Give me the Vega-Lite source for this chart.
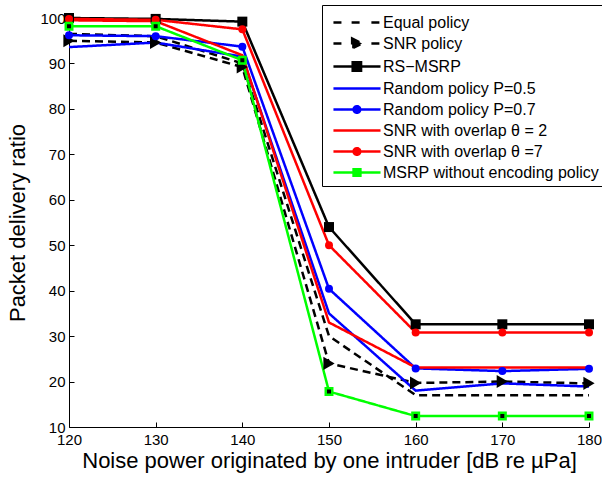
{
  "$schema": "https://vega.github.io/schema/vega-lite/v6.json",
  "width": 520,
  "height": 409,
  "autosize": "none",
  "padding": {"left": 69, "top": 18, "right": 13, "bottom": 54},
  "config": {
    "view": {"stroke": null},
    "font": "Liberation Sans",
    "axis": {
      "domainColor": "#000000",
      "tickColor": "#000000",
      "labelColor": "#000000",
      "titleColor": "#000000",
      "labelFont": "Liberation Sans",
      "titleFont": "Liberation Sans",
      "labelFontSize": 15,
      "titleFontSize": 22,
      "titleFontWeight": "normal",
      "grid": false,
      "tickSize": -5
    }
  },
  "data": {
    "values": [
      {"s": "Equal policy", "x": 120, "y": 96.5},
      {"s": "Equal policy", "x": 130, "y": 96.0},
      {"s": "Equal policy", "x": 140, "y": 90.0},
      {"s": "Equal policy", "x": 150, "y": 30.0},
      {"s": "Equal policy", "x": 160, "y": 17.0},
      {"s": "Equal policy", "x": 170, "y": 17.0},
      {"s": "Equal policy", "x": 180, "y": 17.0},
      {"s": "SNR policy", "x": 120, "y": 95.0},
      {"s": "SNR policy", "x": 130, "y": 94.6},
      {"s": "SNR policy", "x": 140, "y": 89.2},
      {"s": "SNR policy", "x": 150, "y": 24.0},
      {"s": "SNR policy", "x": 160, "y": 19.7},
      {"s": "SNR policy", "x": 170, "y": 20.0},
      {"s": "SNR policy", "x": 180, "y": 19.6},
      {"s": "RS\u2212MSRP", "x": 120, "y": 100.0},
      {"s": "RS\u2212MSRP", "x": 130, "y": 99.8},
      {"s": "RS\u2212MSRP", "x": 140, "y": 99.2},
      {"s": "RS\u2212MSRP", "x": 150, "y": 54.0},
      {"s": "RS\u2212MSRP", "x": 160, "y": 32.6},
      {"s": "RS\u2212MSRP", "x": 170, "y": 32.6},
      {"s": "RS\u2212MSRP", "x": 180, "y": 32.6},
      {"s": "Random policy P=0.5", "x": 120, "y": 93.6},
      {"s": "Random policy P=0.5", "x": 130, "y": 94.6},
      {"s": "Random policy P=0.5", "x": 140, "y": 91.5},
      {"s": "Random policy P=0.5", "x": 150, "y": 35.0},
      {"s": "Random policy P=0.5", "x": 160, "y": 18.0},
      {"s": "Random policy P=0.5", "x": 170, "y": 19.6},
      {"s": "Random policy P=0.5", "x": 180, "y": 18.9},
      {"s": "Random policy P=0.7", "x": 120, "y": 96.2},
      {"s": "Random policy P=0.7", "x": 130, "y": 96.0},
      {"s": "Random policy P=0.7", "x": 140, "y": 93.7},
      {"s": "Random policy P=0.7", "x": 150, "y": 40.4},
      {"s": "Random policy P=0.7", "x": 160, "y": 22.9},
      {"s": "Random policy P=0.7", "x": 170, "y": 22.3},
      {"s": "Random policy P=0.7", "x": 180, "y": 22.8},
      {"s": "SNR with overlap \u03b8 = 2", "x": 120, "y": 99.5},
      {"s": "SNR with overlap \u03b8 = 2", "x": 130, "y": 99.3},
      {"s": "SNR with overlap \u03b8 = 2", "x": 140, "y": 91.8},
      {"s": "SNR with overlap \u03b8 = 2", "x": 150, "y": 33.0},
      {"s": "SNR with overlap \u03b8 = 2", "x": 160, "y": 23.1},
      {"s": "SNR with overlap \u03b8 = 2", "x": 170, "y": 23.1},
      {"s": "SNR with overlap \u03b8 = 2", "x": 180, "y": 23.1},
      {"s": "SNR with overlap \u03b8 =7", "x": 120, "y": 99.8},
      {"s": "SNR with overlap \u03b8 =7", "x": 130, "y": 99.6},
      {"s": "SNR with overlap \u03b8 =7", "x": 140, "y": 97.5},
      {"s": "SNR with overlap \u03b8 =7", "x": 150, "y": 50.0},
      {"s": "SNR with overlap \u03b8 =7", "x": 160, "y": 30.8},
      {"s": "SNR with overlap \u03b8 =7", "x": 170, "y": 30.8},
      {"s": "SNR with overlap \u03b8 =7", "x": 180, "y": 30.8},
      {"s": "MSRP without encoding policy", "x": 120, "y": 98.2},
      {"s": "MSRP without encoding policy", "x": 130, "y": 98.2},
      {"s": "MSRP without encoding policy", "x": 140, "y": 90.7},
      {"s": "MSRP without encoding policy", "x": 150, "y": 17.8},
      {"s": "MSRP without encoding policy", "x": 160, "y": 12.4},
      {"s": "MSRP without encoding policy", "x": 170, "y": 12.4},
      {"s": "MSRP without encoding policy", "x": 180, "y": 12.4}
    ]
  },
  "encoding": {
    "x": {
      "field": "x", "type": "quantitative",
      "scale": {"domain": [120, 180], "nice": false, "zero": false},
      "axis": {"values": [120, 130, 140, 150, 160, 170, 180], "title": "Noise power originated by one intruder [dB re \u00b5Pa]", "labelPadding": 10, "titlePadding": 3, "labelFlush": false}
    },
    "y": {
      "field": "y", "type": "quantitative",
      "scale": {"domain": [10, 100], "nice": false, "zero": false},
      "axis": {"values": [10, 20, 30, 40, 50, 60, 70, 80, 90, 100], "title": "Packet delivery ratio", "labelPadding": 9, "titlePadding": 10, "labelFlush": false}
    }
  },
  "layer": [
    {
      "mark": {"type": "line", "strokeWidth": 2.5, "strokeCap": "butt"},
      "encoding": {
        "color": {
          "field": "s", "type": "nominal",
          "scale": {
            "domain": ["Equal policy", "SNR policy", "RS\u2212MSRP", "Random policy P=0.5", "Random policy P=0.7", "SNR with overlap \u03b8 = 2", "SNR with overlap \u03b8 =7", "MSRP without encoding policy"],
            "range": ["#000000", "#000000", "#000000", "#0000ff", "#0000ff", "#ff0000", "#ff0000", "#00ff00"]
          },
          "legend": {
            "title": null,
            "orient": "none",
            "legendX": 253,
            "legendY": -13,
            "padding": 5,
            "strokeColor": "#000000",
            "fillColor": "#ffffff",
            "labelFontSize": 16,
            "labelFont": "Liberation Sans",
            "labelColor": "#000000",
            "labelLimit": 0,
            "labelOffset": 31,
            "symbolSize": 484,
            "rowPadding": 0,
            "symbolStrokeWidth": 2.5,
            "encode": {
              "symbols": {
                "update": {
                  "shape": {"signal": "{'Equal policy': 'M-0.55,0H0.2M1.1,0H1.95M2.9,0H3.73', 'SNR policy': 'M-0.55,0H0.2M2.9,0H3.73M1.15,-0.45L2.05,0L1.15,0.45Z', 'RS\u2212MSRP': 'M-0.55,0H3.73M1.2,-0.38H1.96V0.38H1.2Z', 'Random policy P=0.5': 'M-0.55,0H3.73', 'Random policy P=0.7': 'M-0.55,0H3.73M1.88,0A0.3,0.3,0,1,1,1.28,0A0.3,0.3,0,1,1,1.88,0Z', 'SNR with overlap \u03b8 = 2': 'M-0.55,0H3.73', 'SNR with overlap \u03b8 =7': 'M-0.55,0H3.73M1.88,0A0.3,0.3,0,1,1,1.28,0A0.3,0.3,0,1,1,1.88,0Z', 'MSRP without encoding policy': 'M-0.55,0H3.73M1.28,-0.3H1.9V0.3H1.28Z'}[datum.value]"},
                  "fill": {"signal": "datum.value === 'MSRP without encoding policy' ? '#000000' : scale('color', datum.value)"},
                  "stroke": {"signal": "scale('color', datum.value)"},
                  "strokeWidth": {"value": 2.5},
                  "strokeDash": {"value": []},
                  "opacity": {"value": 1}
                }
              }
            }
          }
        },
        "strokeDash": {
          "field": "s", "type": "nominal",
          "scale": {
            "domain": ["Equal policy", "SNR policy", "RS\u2212MSRP", "Random policy P=0.5", "Random policy P=0.7", "SNR with overlap \u03b8 = 2", "SNR with overlap \u03b8 =7", "MSRP without encoding policy"],
            "range": [[8, 5], [8, 5], [1, 0], [1, 0], [1, 0], [1, 0], [1, 0], [1, 0]]
          },
          "legend": null
        }
      }
    },
    {
      "transform": [{"filter": "datum.s === 'RS\u2212MSRP'"}],
      "mark": {"type": "point", "shape": "square", "filled": true, "size": 100, "color": "#000000", "opacity": 1}
    },
    {
      "transform": [{"filter": "datum.s === 'SNR policy'"}],
      "mark": {"type": "point", "shape": "triangle-right", "filled": true, "size": 170, "color": "#000000", "opacity": 1}
    },
    {
      "transform": [{"filter": "datum.s === 'Random policy P=0.7' || datum.s === 'SNR with overlap \u03b8 =7'"}],
      "mark": {"type": "point", "shape": "circle", "filled": true, "size": 64, "opacity": 1},
      "encoding": {"color": {"field": "s", "type": "nominal", "legend": null}}
    },
    {
      "transform": [{"filter": "datum.s === 'MSRP without encoding policy'"}],
      "mark": {"type": "point", "shape": "square", "filled": true, "size": 42, "fill": "#000000", "stroke": "#00ff00", "strokeWidth": 2.5, "opacity": 1}
    }
  ]
}
